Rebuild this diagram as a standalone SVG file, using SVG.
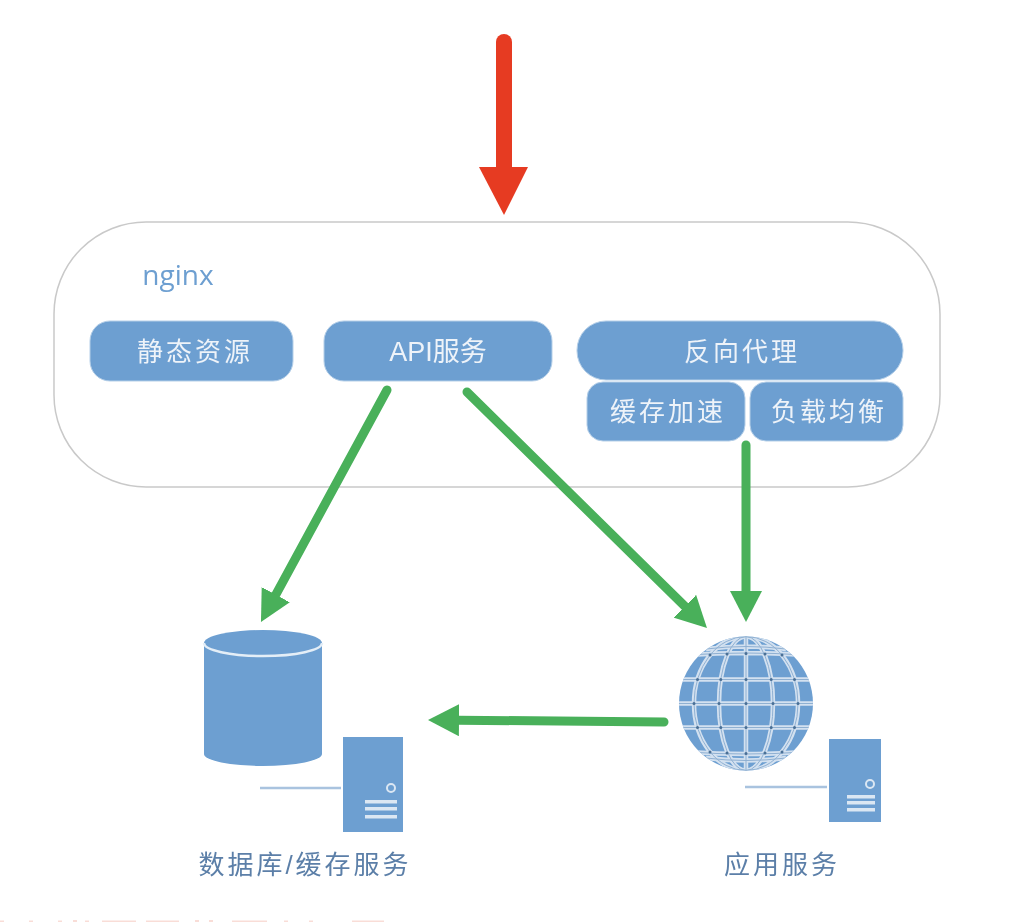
<svg xmlns="http://www.w3.org/2000/svg" width="1032" height="922" viewBox="0 0 1032 922">
<style>
text{font-family:"Liberation Sans","Noto Sans CJK SC",sans-serif;text-anchor:middle}
.box{fill:#6d9fd1;stroke:#b5cfe8;stroke-width:1}
.t{fill:#eef3f9;font-size:26px;letter-spacing:3px}
.tn{letter-spacing:0;font-size:27px}
.l{fill:#5b7fa8;font-size:26px;letter-spacing:3px}
.g{fill:none;stroke:#48b05a;stroke-width:9;stroke-linecap:round;marker-end:url(#gh)}
.p{fill:#6d9fd1}
.bar{fill:#dbe7f3}
.link{stroke:#a9c3df;stroke-width:2.5;fill:none}
.dot{fill:none;stroke:#dbe7f3;stroke-width:2}
.lat{fill:none;stroke:#d3e1f0;stroke-width:4.5}
.lat2{fill:none;stroke:#8fb0d2;stroke-width:1}
.red{fill:#f9ddd7}
</style>
<defs>
<marker id="gh" markerUnits="userSpaceOnUse" markerWidth="32" markerHeight="32" refX="1" refY="16" orient="auto"><path d="M0,0L31,16L0,32z" fill="#48b05a"/></marker>
<clipPath id="gc"><circle cx="746" cy="703.5" r="67"/></clipPath>
<filter id="soft" x="-2%" y="-2%" width="104%" height="104%"><feGaussianBlur stdDeviation="0.7"/></filter>
<g id="gridlines">
<path d="M679,703.5H813M681,679.5H811M681,727.5H811M688,655Q746,651 804,655M688,752Q746,756 804,752M706,649Q746,644 786,649M706,758Q746,763 786,758M746,636V771"/>
<ellipse cx="746" cy="703.5" rx="27" ry="67"/><ellipse cx="746" cy="703.5" rx="52" ry="67"/>
</g>
</defs>
<rect width="1032" height="922" fill="#fff"/>
<g filter="url(#soft)">
<g id="nginx">
<rect x="54" y="222" width="886" height="265" rx="92" fill="#fff" stroke="#c9c9c9" stroke-width="1.5"/>
<text x="178" y="285" style="font-family:'Open Sans','Liberation Sans',sans-serif;font-size:28px;fill:#6d9fd1">nginx</text>
</g>
<g id="static"><rect class="box" x="90" y="321" width="203" height="60" rx="20"/><text class="t" x="195" y="361">静态资源</text></g>
<g id="api"><rect class="box" x="324" y="321" width="228" height="60" rx="20"/><text class="t tn" x="438" y="361">API服务</text></g>
<g id="proxy"><rect class="box" x="577" y="321" width="326" height="59" rx="29"/><text class="t" x="742" y="361">反向代理</text></g>
<g id="cache"><rect class="box" x="587" y="382" width="158" height="59" rx="16"/><text class="t" x="668" y="421">缓存加速</text></g>
<g id="balance"><rect class="box" x="750" y="382" width="153" height="59" rx="16"/><text class="t" x="829" y="421">负载均衡</text></g>
<g id="connectors">
<path d="M504,42V170" fill="none" stroke="#e63a22" stroke-width="16" stroke-linecap="round"/>
<path d="M479,167H528L504,215z" fill="#e63a22"/>
<path class="g" d="M387,390L275.3,595.6"/>
<path class="g" d="M467,392L685.6,607"/>
<path class="g" d="M746,445V592"/>
<path class="g" d="M664,722L458,720.2"/>
</g>
<g id="db">
<path class="p" d="M204,643A59,13 0 0 1 322,643V754A59,12 0 0 1 204,754z"/>
<path d="M204,643A59,13 0 0 0 322,643" fill="none" stroke="#e4eef7" stroke-width="2.5"/>
<path class="link" d="M260,788H341"/>
<rect class="p" x="343" y="737" width="60" height="95"/>
<circle class="dot" cx="391" cy="788" r="4"/>
<rect class="bar" x="365" y="800" width="32" height="3.5"/><rect class="bar" x="365" y="807" width="32" height="3.5"/><rect class="bar" x="365" y="815" width="32" height="3.5"/>
<text class="l" x="305" y="874">数据库/缓存服务</text>
</g>
<g id="app">
<circle class="p" cx="746" cy="703.5" r="67"/>
<g clip-path="url(#gc)"><use href="#gridlines" class="lat"/><use href="#gridlines" class="lat2"/></g>
<path d="M694,703.5h.01M719,703.5h.01M746,703.5h.01M773,703.5h.01M798,703.5h.01M697.5,679.5h.01M720.8,679.5h.01M746,679.5h.01M771.2,679.5h.01M794.5,679.5h.01M697.5,727.5h.01M720.8,727.5h.01M746,727.5h.01M771.2,727.5h.01M794.5,727.5h.01M710,655h.01M727,654h.01M746,653.5h.01M765,654h.01M782,655h.01M710,752h.01M727,753h.01M746,753.5h.01M765,753h.01M782,752h.01" fill="none" stroke="#4a6f96" stroke-width="3" stroke-linecap="round"/>
<path class="link" d="M745,787H827"/>
<rect class="p" x="829" y="739" width="52" height="83"/>
<circle class="dot" cx="870" cy="784" r="4"/>
<rect class="bar" x="847" y="795" width="28" height="3.5"/><rect class="bar" x="847" y="801" width="28" height="3.5"/><rect class="bar" x="847" y="808" width="28" height="3.5"/>
<text class="l" x="782" y="874">应用服务</text>
</g>
</g>
<g id="cropped-marks">
<path class="red" d="M0,920.5h4v1.5h-4zM29,920.5h4v1.5h-4zM58,920.5h4v1.5h-4zM73,920h4v2h-4zM85,920.5h4v1.5h-4zM102,920.5h34v1.5h-34zM146,920.5h33v1.5h-33zM195,920h4v2h-4zM209,920h4v2h-4zM232,920.5h35v1.5h-35zM284,920.5h4v1.5h-4zM309,920.5h4v1.5h-4zM352,920.5h32v1.5h-32z"/>
</g>
</svg>
